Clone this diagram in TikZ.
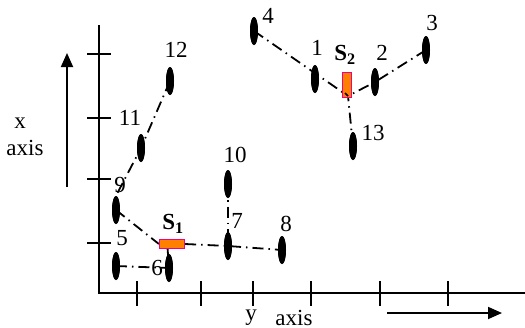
\documentclass[tikz,border=0pt]{standalone}
\usepackage{fontspec}
\setmainfont{Liberation Serif}
\usetikzlibrary{shapes.geometric,arrows.meta}
\begin{document}
\begin{tikzpicture}[x=1pt,y=-1pt,
  pt/.style={ellipse,fill=black,draw=none,minimum width=8pt,minimum height=28pt,inner sep=0pt},
  lbl/.style={font=\fontsize{23}{25}\selectfont,inner sep=0pt},
  axisline/.style={line width=2pt},
  conn/.style={line width=1.8pt,dash pattern=on 11pt off 5pt on 1.5pt off 5pt},
  sensor/.style={draw=magenta,fill=orange,line width=1.2pt,inner sep=0pt}]
\useasboundingbox (0,0) rectangle (525,327);
% axes
\coordinate (vtop) at (99,25);
\coordinate (origin) at (99,293);
\coordinate (hend) at (525,293);
\draw[axisline] (vtop) -- (origin) -- (hend);
\foreach \y in {54,118,179,243} \draw[axisline] (87,\y) -- (111,\y);
\foreach \x in {137,201,253,311,380,448} \draw[axisline] (\x,281) -- (\x,306);
% direction arrows
\coordinate (va) at (67,187);
\coordinate (vb) at (67,53);
\draw[line width=1.8pt,-{Triangle[length=14pt,width=12pt]}] (va) -- (vb);
\coordinate (ha) at (387,313);
\coordinate (hb) at (502,313);
\draw[line width=1.8pt,-{Triangle[length=14pt,width=12pt]}] (ha) -- (hb);
\node[lbl] (xl1) at (20,123) {x};
\node[lbl] (xl2) at (25,148) {axis};
\node[lbl] (yl1) at (251,318) {y};
\node[lbl] (yl2) at (294,318) {axis};
% points
\node[pt] (e4) at (254,31) {};
\node[pt] (e1) at (315,79) {};
\node[pt] (e2) at (375,82) {};
\node[pt] (e3) at (426,50) {};
\node[pt] (e13) at (353,146) {};
\node[pt] (e12) at (170,81) {};
\node[pt] (e11) at (141,148) {};
\node[pt] (e9) at (116,210) {};
\node[pt] (e5) at (116,266) {};
\node[pt] (e6) at (169,268) {};
\node[pt] (e10) at (228,184) {};
\node[pt] (e7) at (228,246) {};
\node[pt] (e8) at (282,250) {};
\node[sensor,minimum width=9pt,minimum height=25pt] (s2) at (347,85) {};
\node[sensor,minimum width=25pt,minimum height=9pt] (s1) at (172,244) {};
\coordinate (j2) at (348,96);
\coordinate (j1) at (167,241);
% connectors
\draw[conn] (e4.center) -- (j2);
\draw[conn] (e3.center) -- (e2.center) -- (j2);
\draw[conn] (e13.center) -- (j2);
\draw[conn] (e12.center) -- (e11.center) -- (e9.north);
\draw[conn] (e9.center) -- (s1.west);
\draw[conn] (s1.east) -- (e7.center) -- (e8.center);
\draw[conn] (e10.center) -- (e7.center);
\draw[conn] (e5.center) -- (e6.center);
\draw[line width=1.8pt] (j1) -- (e6.center);
% redraw points on top
\foreach \n in {e4,e1,e2,e3,e13,e12,e11,e9,e5,e6,e10,e7,e8} \fill (\n) ellipse (4pt and 14pt);
\node[sensor,minimum width=9pt,minimum height=25pt] at (s2) {};
\node[sensor,minimum width=25pt,minimum height=9pt] at (s1) {};
\draw[line width=1.5pt] (j2) -- ++(-3,-3);
% labels
\node[lbl] (l4) at (268,16) {4};
\node[lbl] (l1) at (317,48) {1};
\node[lbl] (l2) at (382,53) {2};
\node[lbl] (l3) at (432,23) {3};
\node[lbl] (l13) at (373,133) {13};
\node[lbl] (ls2) at (345,55) {\textbf{S}\textsubscript{\textbf{2}}};
\node[lbl] (l12) at (176,50) {12};
\node[lbl] (l11) at (130,118) {11};
\node[lbl] (l9) at (120,185) {9};
\node[lbl] (l5) at (122,238) {5};
\node[lbl] (l6) at (157,268) {6};
\node[lbl] (ls1) at (173,224) {\textbf{S}\textsubscript{\textbf{1}}};
\node[lbl] (l10) at (235,155) {10};
\node[lbl] (l7) at (237,221) {7};
\node[lbl] (l8) at (286,224) {8};
\end{tikzpicture}
\end{document}
